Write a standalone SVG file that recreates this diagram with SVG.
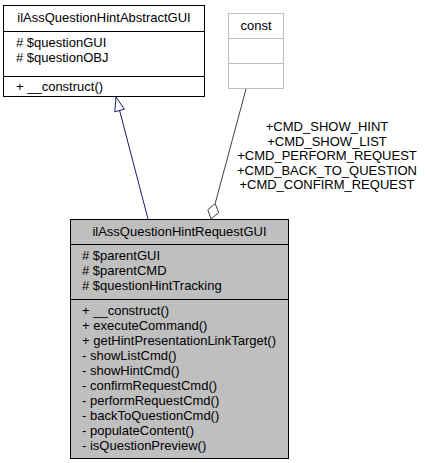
<svg xmlns="http://www.w3.org/2000/svg" width="425" height="463" viewBox="0 0 425 463">
<style>
text{font-family:"Liberation Sans",Arial,sans-serif;font-size:13px;fill:#000}
.c{text-anchor:middle}
.box{fill:#fff;stroke:#000;stroke-width:1}
.gbox{fill:#bfbfbf;stroke:#000;stroke-width:1}
.lbox{fill:#fff;stroke:#bfbfbf;stroke-width:1}
.dl{stroke:#000;stroke-width:1}
.ldl{stroke:#bfbfbf;stroke-width:1}
</style>
<rect width="425" height="463" fill="#fff"/>
<g id="edges">
<g id="edge-inherit">
<line x1="148" y1="219" x2="119.6" y2="110.5" stroke="#191970" stroke-width="1"/>
<polygon points="116,97 124.4,109.2 114.8,111.8" fill="#fff" stroke="#191970" stroke-width="1"/>
</g>
<g id="edge-const">
<line x1="246" y1="89" x2="215.2" y2="203.5" stroke="#404040" stroke-width="1"/>
<polygon points="211,219 207.8,209.9 215.2,203.5 218.6,212.7" fill="#fff" stroke="#404040" stroke-width="1"/>
<text class="c" x="327" y="131">+CMD_SHOW_HINT</text>
<text class="c" x="327" y="146">+CMD_SHOW_LIST</text>
<text class="c" x="327" y="160">+CMD_PERFORM_REQUEST</text>
<text class="c" x="327" y="175">+CMD_BACK_TO_QUESTION</text>
<text class="c" x="327" y="189">+CMD_CONFIRM_REQUEST</text>
</g>
</g>
<g id="node-abstract">
<rect class="box" x="3.5" y="5.5" width="201" height="91"/>
<line class="dl" x1="3.5" y1="31.5" x2="204.5" y2="31.5"/>
<line class="dl" x1="3.5" y1="76.5" x2="204.5" y2="76.5"/>
<text class="c" x="104" y="22">ilAssQuestionHintAbstractGUI</text>
<text x="16" y="47"># $questionGUI</text>
<text x="16" y="62"># $questionOBJ</text>
<text x="16" y="91">+ __construct()</text>
</g>
<g id="node-const">
<rect class="lbox" x="228.5" y="13.5" width="55" height="75"/>
<line class="ldl" x1="228.5" y1="38.5" x2="283.5" y2="38.5"/>
<line class="ldl" x1="228.5" y1="63.5" x2="283.5" y2="63.5"/>
<text class="c" x="256" y="30">const</text>
</g>
<g id="node-request">
<rect class="gbox" x="70.5" y="219.5" width="218" height="239"/>
<line class="dl" x1="70.5" y1="244.5" x2="288.5" y2="244.5"/>
<line class="dl" x1="70.5" y1="299.5" x2="288.5" y2="299.5"/>
<text class="c" x="179.5" y="236">ilAssQuestionHintRequestGUI</text>
<text x="82" y="260"># $parentGUI</text>
<text x="82" y="275"># $parentCMD</text>
<text x="82" y="290"># $questionHintTracking</text>
<text x="82" y="315">+ __construct()</text>
<text x="82" y="330">+ executeCommand()</text>
<text x="82" y="345">+ getHintPresentationLinkTarget()</text>
<text x="82" y="360">- showListCmd()</text>
<text x="82" y="375">- showHintCmd()</text>
<text x="82" y="390">- confirmRequestCmd()</text>
<text x="82" y="405">- performRequestCmd()</text>
<text x="82" y="420">- backToQuestionCmd()</text>
<text x="82" y="435">- populateContent()</text>
<text x="82" y="450">- isQuestionPreview()</text>
</g>
</svg>
